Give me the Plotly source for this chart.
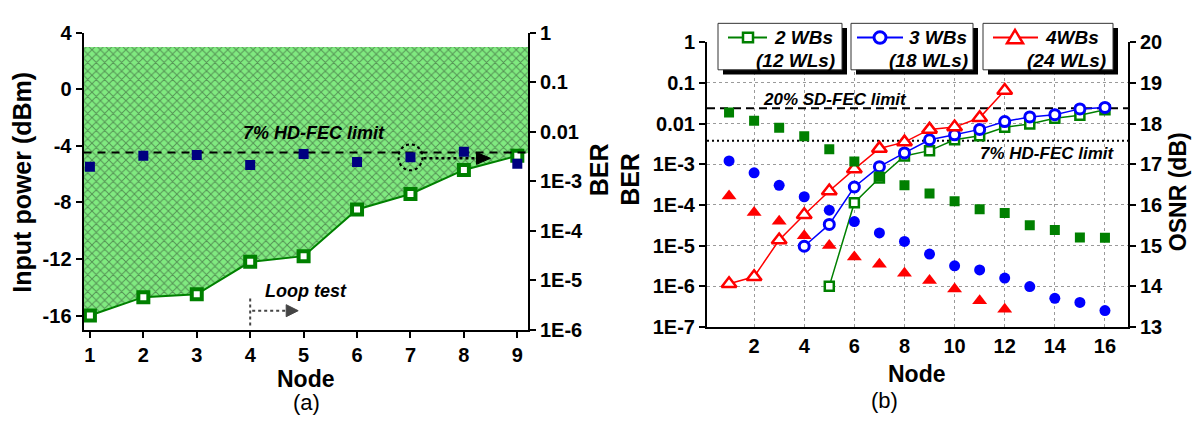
import math
import plotly.graph_objects as go

W, H = 1193, 426
FONT = "Liberation Sans"

# ---------------- panel (a): input power and BER per node ----------------
nodes_a = [1, 2, 3, 4, 5, 6, 7, 8, 9]
power_dbm = [-16.0, -14.7, -14.5, -12.2, -11.8, -8.5, -7.4, -5.7, -4.7]
ber_a = [1.96e-3, 3.27e-3, 3.4e-3, 2.14e-3, 3.56e-3, 2.44e-3, 3.04e-3, 3.96e-3, 2.26e-3]
power_ceiling = 3.0
hd_fec = 3.8e-3
sd_fec = 2.4e-2

xr_a = [0.88, 9.2]
yr_a = [-17, 4]
yr_a_log = [-6, 0]
power_ticks = [-16, -12, -8, -4, 0, 4]

# ---------------- panel (b): BER and OSNR for 2/3/4 wavebands ----------------
nodes_2wb = list(range(5, 17))
ber_2wb = [1.0e-6, 1.13e-4, 4.6e-4, 1.6e-3, 2.16e-3, 4.0e-3, 5.0e-3, 8.1e-3,
           9.8e-3, 1.35e-2, 1.6e-2, 2.2e-2]
nodes_3wb = list(range(4, 17))
ber_3wb = [9.6e-6, 3.3e-5, 2.75e-4, 8.7e-4, 1.9e-3, 4.0e-3, 5.3e-3, 7.2e-3,
           1.12e-2, 1.46e-2, 1.66e-2, 2.3e-2, 2.5e-2]
nodes_4wb = list(range(1, 13))
ber_4wb = [1.15e-6, 1.7e-6, 1.37e-5, 5.7e-5, 2.2e-4, 7.6e-4, 2.45e-3, 3.5e-3,
           7.2e-3, 8.2e-3, 1.39e-2, 6.5e-2]

osnr_nodes_2wb = list(range(1, 17))
osnr_2wb = [18.27, 18.07, 17.9, 17.69, 17.37, 17.07, 16.7, 16.48, 16.28, 16.09,
            15.89, 15.8, 15.5, 15.38, 15.2, 15.19]
osnr_nodes_3wb = list(range(1, 17))
osnr_3wb = [17.08, 16.79, 16.48, 16.2, 15.87, 15.59, 15.31, 15.1, 14.79, 14.5,
            14.4, 14.2, 13.99, 13.7, 13.6, 13.4]
osnr_nodes_4wb = list(range(1, 13))
osnr_4wb = [16.22, 15.81, 15.6, 15.24, 15.0, 14.72, 14.54, 14.32, 14.14, 13.93,
            13.64, 13.43]

xr_b = [0.12, 16.92]
xticks_b = [2, 4, 6, 8, 10, 12, 14, 16]
ber_ticks = [1e-7, 1e-6, 1e-5, 1e-4, 1e-3, 1e-2, 1e-1, 1]
ber_ticktext = ["1E-7", "1E-6", "1E-5", "1E-4", "1E-3", "0.01", "0.1", "1"]
osnr_ticks = [13, 14, 15, 16, 17, 18, 19, 20]

GREEN, BLUE, RED, NAVY = "#008000", "#0000ff", "#ff0000", "#000080"


def px(x):
    return x / W


def py(y):
    return 1 - y / H


def ber_on_power_axis(ber):
    """Map a BER value onto the linear power axis sharing the same plot area."""
    frac = (math.log10(ber) - yr_a_log[0]) / (yr_a_log[1] - yr_a_log[0])
    return yr_a[0] + frac * (yr_a[1] - yr_a[0])


fig = go.Figure()

# hatched operating region above the minimum input power curve
sl = (power_dbm[1] - power_dbm[0]) / (nodes_a[1] - nodes_a[0])
sr = (power_dbm[-1] - power_dbm[-2]) / (nodes_a[-1] - nodes_a[-2])
y_left = power_dbm[0] + sl * (xr_a[0] - nodes_a[0])
y_right = power_dbm[-1] + sr * (xr_a[1] - nodes_a[-1])
poly_x = [xr_a[0]] + nodes_a + [xr_a[1], xr_a[1], xr_a[0], xr_a[0]]
poly_y = [y_left] + power_dbm + [y_right, power_ceiling, power_ceiling, y_left]
fig.add_trace(go.Scatter(
    x=poly_x, y=poly_y, mode="lines", fill="toself", line=dict(width=0),
    fillpattern=dict(shape="x", bgcolor="#80ea80", fgcolor="#2a3a2a",
                     size=6, solidity=0.3),
    xaxis="x", yaxis="y", hoverinfo="skip", showlegend=False))

fig.add_trace(go.Scatter(
    x=xr_a, y=[hd_fec, hd_fec], mode="lines",
    line=dict(color="black", width=2, dash="8px,6px"),
    xaxis="x", yaxis="y2", showlegend=False))

fig.add_trace(go.Scatter(
    x=nodes_a, y=power_dbm, mode="lines+markers",
    line=dict(color=GREEN, width=2),
    marker=dict(symbol="square", size=10, color="white",
                line=dict(color=GREEN, width=4)),
    xaxis="x", yaxis="y", showlegend=False))

fig.add_trace(go.Scatter(
    x=nodes_a, y=ber_a, mode="markers",
    marker=dict(symbol="square", size=10, color=NAVY),
    xaxis="x", yaxis="y2", showlegend=False))

# ---------------- panel (b) traces ----------------
fig.add_trace(go.Scatter(
    x=xr_b, y=[sd_fec, sd_fec], mode="lines",
    line=dict(color="black", width=2, dash="8px,5px"),
    xaxis="x2", yaxis="y3", showlegend=False))
fig.add_trace(go.Scatter(
    x=xr_b, y=[hd_fec, hd_fec], mode="lines",
    line=dict(color="black", width=2, dash="2px,3px"),
    xaxis="x2", yaxis="y3", showlegend=False))

fig.add_trace(go.Scatter(
    x=nodes_2wb, y=ber_2wb, mode="lines+markers", name="2 WBs",
    line=dict(color=GREEN, width=1.5),
    marker=dict(symbol="square", size=9, color="white",
                line=dict(color=GREEN, width=2.5)),
    xaxis="x2", yaxis="y3", showlegend=False))
fig.add_trace(go.Scatter(
    x=nodes_3wb, y=ber_3wb, mode="lines+markers", name="3 WBs",
    line=dict(color=BLUE, width=1.5),
    marker=dict(symbol="circle", size=10, color="white",
                line=dict(color=BLUE, width=3)),
    xaxis="x2", yaxis="y3", showlegend=False))
fig.add_trace(go.Scatter(
    x=nodes_4wb, y=ber_4wb, mode="lines+markers", name="4WBs",
    line=dict(color=RED, width=1.5),
    marker=dict(symbol="triangle-up", size=13, color="white",
                line=dict(color=RED, width=2.5)),
    xaxis="x2", yaxis="y3", showlegend=False))

fig.add_trace(go.Scatter(
    x=osnr_nodes_2wb, y=osnr_2wb, mode="markers",
    marker=dict(symbol="square", size=10, color=GREEN),
    xaxis="x2", yaxis="y4", showlegend=False))
fig.add_trace(go.Scatter(
    x=osnr_nodes_3wb, y=osnr_3wb, mode="markers",
    marker=dict(symbol="circle", size=11, color=BLUE),
    xaxis="x2", yaxis="y4", showlegend=False))
fig.add_trace(go.Scatter(
    x=osnr_nodes_4wb, y=osnr_4wb, mode="markers",
    marker=dict(symbol="triangle-up", size=13, color=RED),
    xaxis="x2", yaxis="y4", showlegend=False))

# ---------------- axes ----------------
tickfont = dict(family=FONT, size=20, color="black", weight="bold")
axis_common = dict(showline=True, linecolor="black", linewidth=2,
                   zeroline=False, tickfont=tickfont, ticks="outside",
                   ticklen=6, tickwidth=2, tickcolor="black")

dom_ax = [px(83.5), px(528)]
dom_ay = [py(336), py(23)]
dom_bx = [px(707), px(1128)]
dom_by = [py(333), py(33)]

fig.update_layout(
    xaxis=dict(domain=dom_ax, range=xr_a, anchor="y", tickvals=nodes_a,
               showgrid=False, **axis_common),
    yaxis=dict(domain=dom_ay, range=yr_a, anchor="x",
               tickvals=power_ticks, ticktext=[str(v) for v in power_ticks],
               showgrid=False, **axis_common),
    yaxis2=dict(overlaying="y", side="right", anchor="x", type="log",
                range=yr_a_log, tickvals=ber_ticks[1:], ticktext=ber_ticktext[1:],
                showgrid=False, **axis_common),
    xaxis2=dict(domain=dom_bx, range=xr_b, anchor="y3", tickvals=xticks_b,
                showgrid=True, gridcolor="#9a9a9a", griddash="dot", gridwidth=1,
                showline=True, linecolor="black", linewidth=2, zeroline=False,
                tickfont=tickfont, ticks=""),
    yaxis3=dict(domain=dom_by, range=[-7, 0], anchor="x2", type="log",
                tickvals=ber_ticks, ticktext=ber_ticktext,
                showgrid=True, gridcolor="#9a9a9a", griddash="dot", gridwidth=1,
                **axis_common),
    yaxis4=dict(overlaying="y3", side="right", anchor="x2", range=[13, 20],
                tickvals=osnr_ticks, showgrid=False, **axis_common),
)

# ---------------- annotations and decorations ----------------
ann = []
shapes = []


def text(x, y, s, size, bold=True, italic=False, angle=0, xanchor="center"):
    t = s
    if italic:
        t = "<i>" + t + "</i>"
    ann.append(dict(x=px(x), y=py(y), xref="paper", yref="paper", text=t,
                    showarrow=False, textangle=angle, xanchor=xanchor,
                    yanchor="middle", borderpad=0,
                    font=dict(family=FONT, size=size, color="black",
                              weight="bold" if bold else "normal")))


# axis titles and panel labels
text(22, 181, "Input power (dBm)", 25, angle=-90)
text(599, 168, "BER", 25, angle=-90)
text(306, 388, "Node", 23)
text(306, 413, "(a)", 22, bold=False)
text(630, 177, "BER", 25, angle=-90)
text(1178, 191, "OSNR (dB)", 23, angle=-90)
text(917, 383, "Node", 23)
text(884, 411, "(b)", 22, bold=False)

# threshold labels
text(314, 129, "7% HD-FEC limit", 18, italic=True)
text(306, 295, "Loop test", 18, italic=True)
text(835, 93, "20% SD-FEC limit", 17, italic=True)
text(1047, 150, "7% HD-FEC limit", 17, italic=True)

# dotted circle and arrow on node 7 of panel (a)
y7 = ber_on_power_axis(ber_a[6])
shapes.append(dict(type="circle", xref="x", yref="y", xsizemode="pixel",
                   ysizemode="pixel", xanchor=nodes_a[6], yanchor=y7,
                   x0=-12, x1=12, y0=-13, y1=13,
                   line=dict(color="black", width=2, dash="dot")))
shapes.append(dict(type="line", xref="x", yref="y", xsizemode="pixel",
                   ysizemode="pixel", xanchor=nodes_a[6], yanchor=y7,
                   x0=13, x1=68, y0=-1, y1=-1,
                   line=dict(color="black", width=2.5, dash="dot")))
shapes.append(dict(type="path", xref="x", yref="y", xsizemode="pixel",
                   ysizemode="pixel", xanchor=nodes_a[6], yanchor=y7,
                   path="M 66,5 L 80,-1 L 66,-7 Z", fillcolor="black",
                   line=dict(color="black", width=1)))

# loop-test marker starting at node 4
shapes.append(dict(type="line", xref="x", yref="y", x0=4, x1=4, y0=-16.7,
                   y1=-14.8, line=dict(color="#444444", width=2, dash="dot")))
shapes.append(dict(type="line", xref="x", yref="y", xsizemode="pixel",
                   xanchor=4, x0=2, x1=38, y0=-15.66, y1=-15.66,
                   line=dict(color="#444444", width=2, dash="dot")))
shapes.append(dict(type="path", xref="x", yref="y", xsizemode="pixel",
                   ysizemode="pixel", xanchor=4, yanchor=-15.66,
                   path="M 36,6 L 48,0 L 36,-6 Z", fillcolor="#444444",
                   line=dict(color="#444444", width=1)))

# legend boxes of panel (b)
boxes = [
    (718, 842, GREEN, "square", "2 WBs", "(12 WLs)", 728, 767, 748, 772, 837),
    (851, 973, BLUE, "circle", "3 WBs", "(18 WLs)", 857, 903, 880, 907, 970),
    (983, 1113, RED, "triangle", "4WBs", "(24 WLs)", 993, 1038, 1015, 1043, 1108),
]
for (bx0, bx1, col, sym, l1, l2, lx0, lx1, mx, tx, tx2) in boxes:
    by0, by1 = 13, 62
    shapes.append(dict(type="rect", xref="paper", yref="paper",
                       x0=px(bx0 + 5), x1=px(bx1 + 5), y0=py(by1 + 5),
                       y1=py(by0 + 5), fillcolor="black", line=dict(width=0)))
    shapes.append(dict(type="rect", xref="paper", yref="paper",
                       x0=px(bx0), x1=px(bx1), y0=py(by1), y1=py(by0),
                       fillcolor="white", line=dict(color="#333333", width=1)))
    ly = 28
    shapes.append(dict(type="line", xref="paper", yref="paper",
                       x0=px(lx0), x1=px(lx1), y0=py(ly), y1=py(ly),
                       line=dict(color=col, width=2)))
    if sym == "square":
        shapes.append(dict(type="rect", xref="paper", yref="paper",
                           x0=px(mx - 5), x1=px(mx + 5), y0=py(ly + 5),
                           y1=py(ly - 5), fillcolor="white",
                           line=dict(color=col, width=2.5)))
    elif sym == "circle":
        shapes.append(dict(type="circle", xref="paper", yref="paper",
                           x0=px(mx - 6), x1=px(mx + 6), y0=py(ly + 6),
                           y1=py(ly - 6), fillcolor="white",
                           line=dict(color=col, width=3)))
    else:
        path = "M {:.5f},{:.5f} L {:.5f},{:.5f} L {:.5f},{:.5f} Z".format(
            px(mx - 8), py(ly + 6), px(mx + 8), py(ly + 6), px(mx), py(ly - 8))
        shapes.append(dict(type="path", xref="paper", yref="paper", path=path,
                           fillcolor="white", line=dict(color=col, width=2.5)))
    ann.append(dict(x=px(tx), y=py(ly), xref="paper", yref="paper",
                    text="<i>" + l1 + "</i>", showarrow=False, xanchor="left",
                    yanchor="middle",
                    font=dict(family=FONT, size=19, color="black", weight="bold")))
    ann.append(dict(x=px(tx2), y=py(52), xref="paper", yref="paper",
                    text="<i>" + l2 + "</i>", showarrow=False, xanchor="right",
                    yanchor="middle",
                    font=dict(family=FONT, size=19, color="black", weight="bold")))

fig.update_layout(
    width=W, height=H, autosize=False,
    margin=dict(l=0, r=0, t=0, b=0),
    paper_bgcolor="white", plot_bgcolor="rgba(0,0,0,0)",
    annotations=ann, shapes=shapes, showlegend=False,
    font=dict(family=FONT, color="black"),
)

fig.write_html("out.html")
